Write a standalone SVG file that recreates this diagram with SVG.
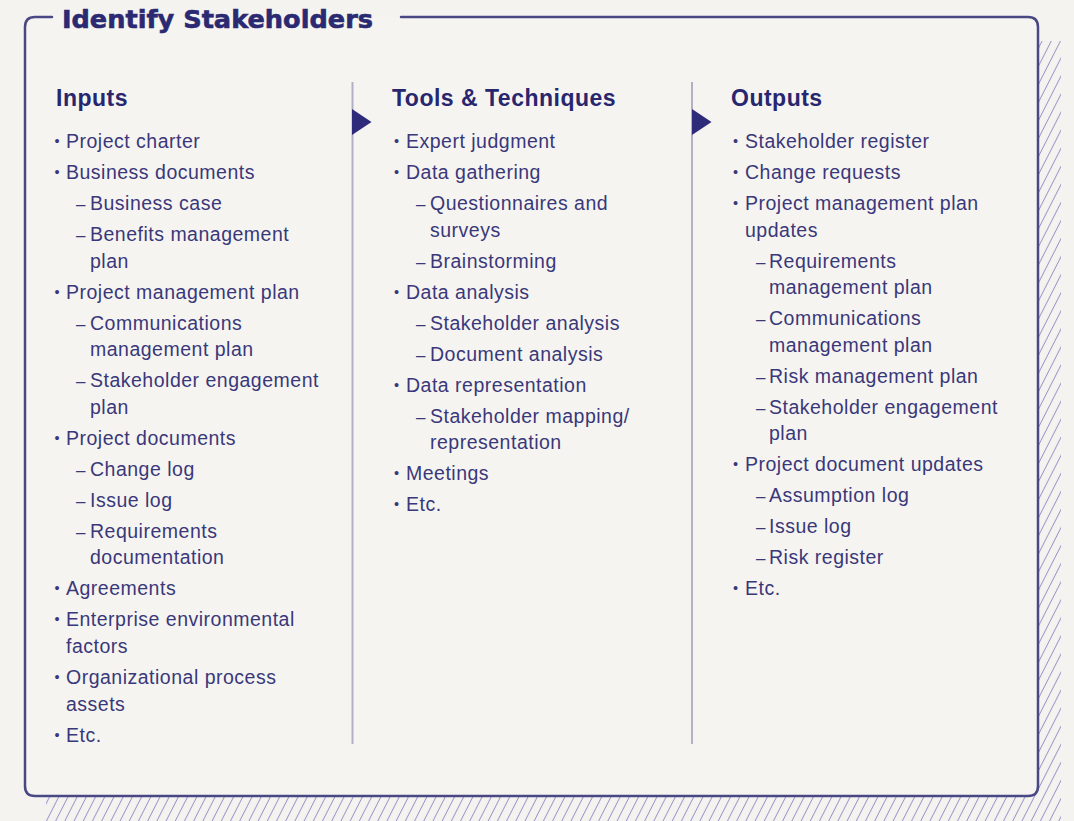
<svg xmlns="http://www.w3.org/2000/svg" width="1074" height="821" viewBox="0 0 1074 821">
<style>
.bg{fill:#f5f3ef}
.box{fill:#f6f4f0}
.frame{fill:none;stroke:#4a4884;stroke-width:2.5;stroke-linecap:round}
.title{font-family:"DejaVu Sans","Liberation Sans",sans-serif;font-weight:bold;font-size:25.5px;fill:#2a2972;stroke:#2a2972;stroke-width:0.6px}
.h{font-family:"Liberation Sans",Arial,sans-serif;font-weight:bold;font-size:23px;letter-spacing:0.5px;fill:#27266e}
.t{font-family:"Liberation Sans",Arial,sans-serif;font-size:19.5px;letter-spacing:0.5px;fill:#39387a}
.bul{font-family:"Liberation Sans",Arial,sans-serif;font-size:14.5px;fill:#39387a}
.d{font-family:"Liberation Sans",Arial,sans-serif;font-size:17px;fill:#39387a}
.div{stroke:#b1b0c4;stroke-width:2;fill:none}
.arr{fill:#2d2b7a}
</style>
<defs>
<pattern id="hatch" width="8.2" height="8" patternUnits="userSpaceOnUse" patternTransform="rotate(27)">
<line x1="4.1" y1="0" x2="4.1" y2="8" stroke="#9896c9" stroke-width="1"/>
</pattern>
</defs>
<rect class="bg" x="0" y="0" width="1074" height="821"/>
<g id="frame">
<rect x="46" y="41" width="1015" height="790" fill="url(#hatch)"/>
<rect class="box" x="25" y="17" width="1013" height="779" rx="9"/>
<path class="frame" d="M52 17 H35 Q25 17 25 27 V786 Q25 796 35 796 H1028 Q1038 796 1038 786 V27 Q1038 17 1028 17 H401"/>
<text class="title" x="62" y="28" textLength="311" lengthAdjust="spacingAndGlyphs">Identify Stakeholders</text>
</g>
<g id="connectors">
<line class="div" x1="352.5" y1="82" x2="352.5" y2="744"/>
<line class="div" x1="692" y1="82" x2="692" y2="744"/>
<polygon class="arr" points="352,109 371.5,122 352,135"/>
<polygon class="arr" points="692,109 711.5,122 692,135"/>
</g>
<g id="inputs">
<text class="h" x="56" y="106">Inputs</text>
<text class="bul" x="54.5" y="146">•</text><text class="t" x="66" y="148">Project charter</text>
<text class="bul" x="54.5" y="177">•</text><text class="t" x="66" y="179">Business documents</text>
<text class="d" x="76" y="210">–</text><text class="t" x="90" y="210">Business case</text>
<text class="d" x="76" y="241">–</text><text class="t" x="90" y="241">Benefits management</text>
<text class="t" x="90" y="267.6">plan</text>
<text class="bul" x="54.5" y="296.6">•</text><text class="t" x="66" y="298.6">Project management plan</text>
<text class="d" x="76" y="329.6">–</text><text class="t" x="90" y="329.6">Communications</text>
<text class="t" x="90" y="356.2">management plan</text>
<text class="d" x="76" y="387.2">–</text><text class="t" x="90" y="387.2">Stakeholder engagement</text>
<text class="t" x="90" y="413.8">plan</text>
<text class="bul" x="54.5" y="442.8">•</text><text class="t" x="66" y="444.8">Project documents</text>
<text class="d" x="76" y="475.8">–</text><text class="t" x="90" y="475.8">Change log</text>
<text class="d" x="76" y="506.8">–</text><text class="t" x="90" y="506.8">Issue log</text>
<text class="d" x="76" y="537.8">–</text><text class="t" x="90" y="537.8">Requirements</text>
<text class="t" x="90" y="564.4">documentation</text>
<text class="bul" x="54.5" y="593.4">•</text><text class="t" x="66" y="595.4">Agreements</text>
<text class="bul" x="54.5" y="624.4">•</text><text class="t" x="66" y="626.4">Enterprise environmental</text>
<text class="t" x="66" y="653">factors</text>
<text class="bul" x="54.5" y="682">•</text><text class="t" x="66" y="684">Organizational process</text>
<text class="t" x="66" y="710.6">assets</text>
<text class="bul" x="54.5" y="739.6">•</text><text class="t" x="66" y="741.6">Etc.</text>
</g>
<g id="tools">
<text class="h" x="392" y="106">Tools &amp; Techniques</text>
<text class="bul" x="394" y="146">•</text><text class="t" x="406" y="148">Expert judgment</text>
<text class="bul" x="394" y="177">•</text><text class="t" x="406" y="179">Data gathering</text>
<text class="d" x="416" y="210">–</text><text class="t" x="430" y="210">Questionnaires and</text>
<text class="t" x="430" y="236.6">surveys</text>
<text class="d" x="416" y="267.6">–</text><text class="t" x="430" y="267.6">Brainstorming</text>
<text class="bul" x="394" y="296.6">•</text><text class="t" x="406" y="298.6">Data analysis</text>
<text class="d" x="416" y="329.6">–</text><text class="t" x="430" y="329.6">Stakeholder analysis</text>
<text class="d" x="416" y="360.6">–</text><text class="t" x="430" y="360.6">Document analysis</text>
<text class="bul" x="394" y="389.6">•</text><text class="t" x="406" y="391.6">Data representation</text>
<text class="d" x="416" y="422.6">–</text><text class="t" x="430" y="422.6">Stakeholder mapping/</text>
<text class="t" x="430" y="449.2">representation</text>
<text class="bul" x="394" y="478.2">•</text><text class="t" x="406" y="480.2">Meetings</text>
<text class="bul" x="394" y="509.2">•</text><text class="t" x="406" y="511.2">Etc.</text>
</g>
<g id="outputs">
<text class="h" x="731" y="106">Outputs</text>
<text class="bul" x="733" y="146">•</text><text class="t" x="745" y="148">Stakeholder register</text>
<text class="bul" x="733" y="177">•</text><text class="t" x="745" y="179">Change requests</text>
<text class="bul" x="733" y="208">•</text><text class="t" x="745" y="210">Project management plan</text>
<text class="t" x="745" y="236.6">updates</text>
<text class="d" x="756" y="267.6">–</text><text class="t" x="769" y="267.6">Requirements</text>
<text class="t" x="769" y="294.2">management plan</text>
<text class="d" x="756" y="325.2">–</text><text class="t" x="769" y="325.2">Communications</text>
<text class="t" x="769" y="351.8">management plan</text>
<text class="d" x="756" y="382.8">–</text><text class="t" x="769" y="382.8">Risk management plan</text>
<text class="d" x="756" y="413.8">–</text><text class="t" x="769" y="413.8">Stakeholder engagement</text>
<text class="t" x="769" y="440.4">plan</text>
<text class="bul" x="733" y="469.4">•</text><text class="t" x="745" y="471.4">Project document updates</text>
<text class="d" x="756" y="502.4">–</text><text class="t" x="769" y="502.4">Assumption log</text>
<text class="d" x="756" y="533.4">–</text><text class="t" x="769" y="533.4">Issue log</text>
<text class="d" x="756" y="564.4">–</text><text class="t" x="769" y="564.4">Risk register</text>
<text class="bul" x="733" y="593.4">•</text><text class="t" x="745" y="595.4">Etc.</text>
</g>
</svg>
